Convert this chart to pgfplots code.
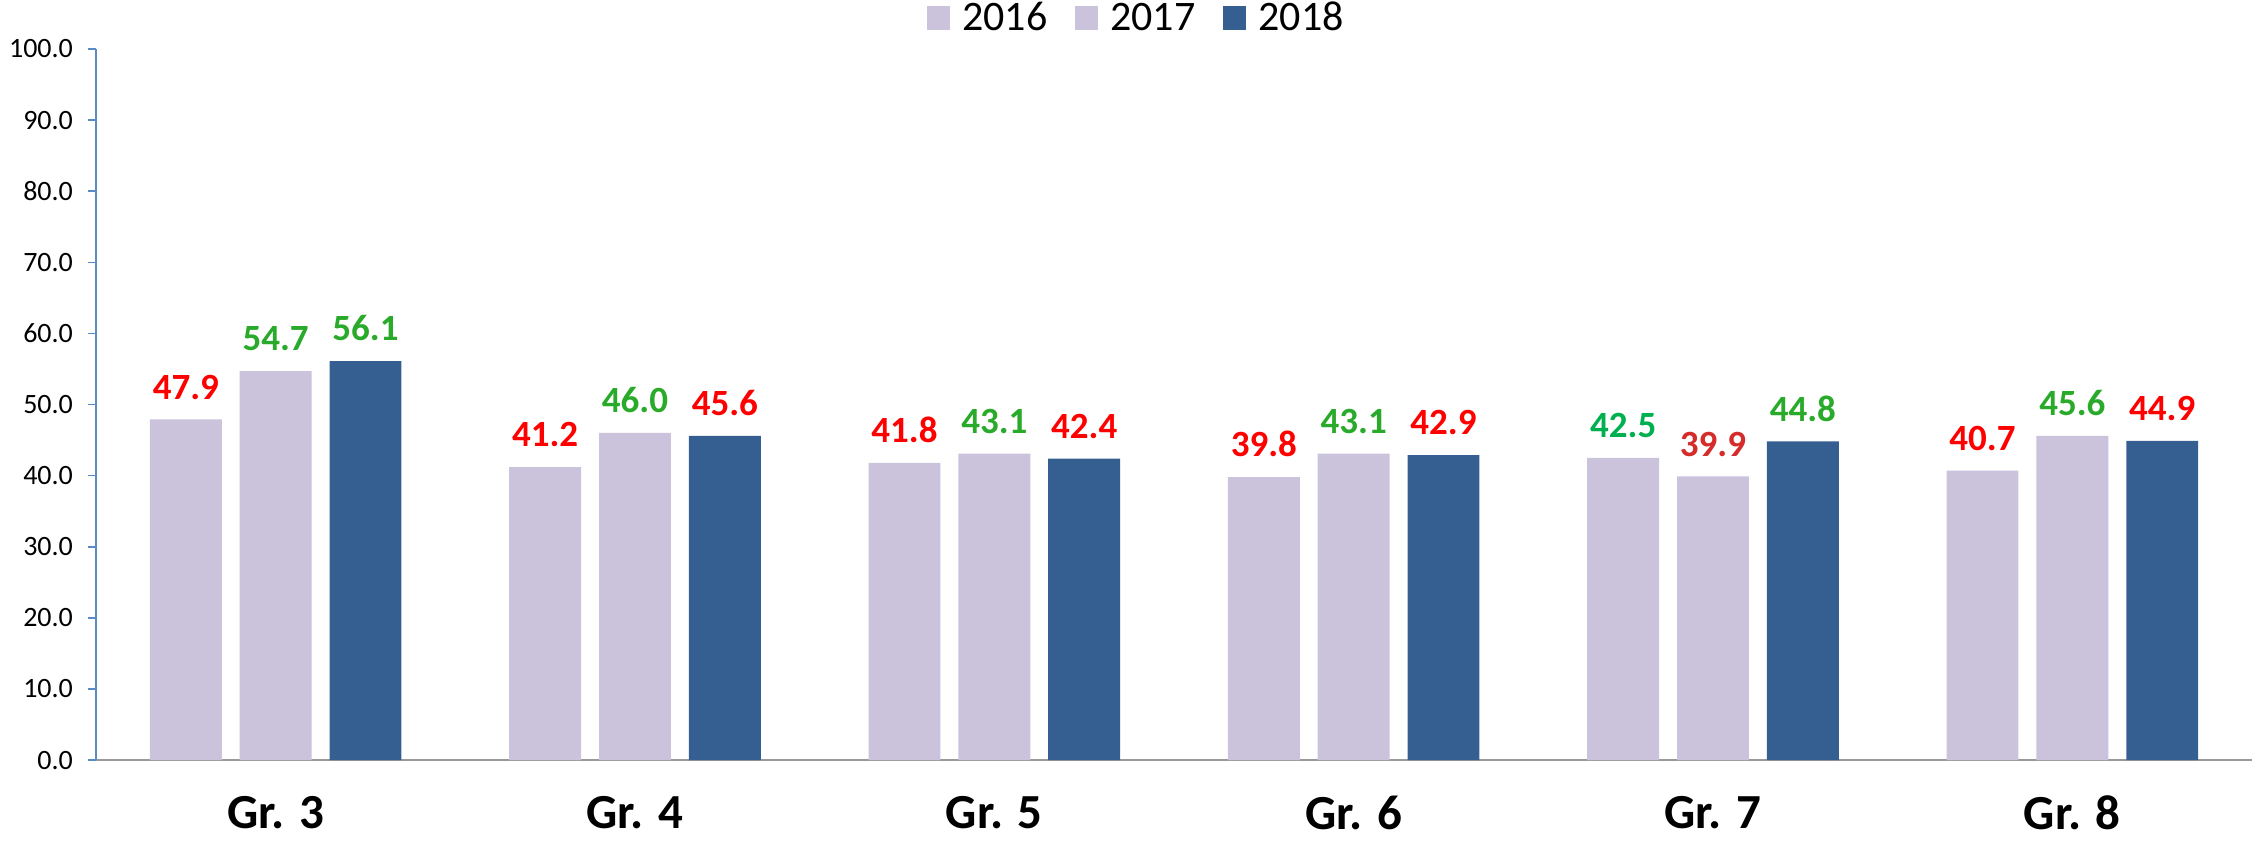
\documentclass[border=0pt]{standalone}
\usepackage{fontspec}
\setmainfont{Carlito}
\usepackage{pgfplots}
\pgfplotsset{compat=1.18}
\definecolor{lav}{HTML}{CBC2DB}
\definecolor{navy}{HTML}{365F91}
\definecolor{lred}{HTML}{FF0000}
\definecolor{dred}{HTML}{D52B2B}
\definecolor{lgreen}{HTML}{2AAA2A}
\definecolor{bgreen}{HTML}{00B050}
\definecolor{yblue}{HTML}{5B8AC8}
\begin{document}
\begin{tikzpicture}
\begin{axis}[
  name=ax,
  scale only axis, width=1078pt, height=355.5pt,
  xmin=-0.5, xmax=5.5, ymin=0, ymax=100,
  ytick={0,10,...,100},
  xtick={0,1,2,3,4,5},
  xticklabels={Gr. 3,Gr. 4,Gr. 5,Gr. 6,Gr. 7,Gr. 8},
  axis x line=bottom, axis y line=left,
  x axis line style={-, draw=gray!80, line width=0.8pt},
  y axis line style={-, draw=yblue, line width=0.8pt},
  xtick style={draw=none},
  ytick style={draw=yblue, line width=0.8pt},
  tick align=outside, major tick length=4pt,
  /pgf/number format/assume math mode=true,
  yticklabel style={/pgf/number format/.cd, fixed, fixed zerofill, precision=1, /tikz/.cd, font=\fontsize{14}{15}\selectfont, xshift=-4pt},
  xticklabel style={font=\bfseries\fontsize{24.5}{25}\selectfont, yshift=-10.5pt},
  ybar, bar width=0.2,
  point meta=explicit symbolic,
  nodes near coords,
  nodes near coords style={font=\bfseries\fontsize{18.5}{19}\selectfont, anchor=south, yshift=6.5pt},
  legend style={draw=none, at={(0.483,1)}, anchor=center, yshift=15.5pt, legend columns=-1,
    font=\fontsize{21}{22}\selectfont,
    /tikz/every odd column/.append style={column sep=4pt},
    /tikz/every even column/.append style={column sep=12pt}},
  legend image code/.code={\fill[#1] (0pt,-5.75pt) rectangle (11.5pt,5.75pt);},
]
\addplot[fill=lav, draw=none, bar shift=-0.25] coordinates {
  (0,47.9) [\textcolor{lred}{47.9}]
  (1,41.2) [\textcolor{lred}{41.2}]
  (2,41.8) [\textcolor{lred}{41.8}]
  (3,39.8) [\textcolor{lred}{39.8}]
  (4,42.5) [\textcolor{bgreen}{42.5}]
  (5,40.7) [\textcolor{lred}{40.7}]
};
\addplot[fill=lav, draw=none, bar shift=0] coordinates {
  (0,54.7) [\textcolor{lgreen}{54.7}]
  (1,46.0) [\textcolor{lgreen}{46.0}]
  (2,43.1) [\textcolor{lgreen}{43.1}]
  (3,43.1) [\textcolor{lgreen}{43.1}]
  (4,39.9) [\textcolor{dred}{39.9}]
  (5,45.6) [\textcolor{lgreen}{45.6}]
};
\addplot[fill=navy, draw=none, bar shift=0.25] coordinates {
  (0,56.1) [\textcolor{lgreen}{56.1}]
  (1,45.6) [\textcolor{lred}{45.6}]
  (2,42.4) [\textcolor{lred}{42.4}]
  (3,42.9) [\textcolor{lred}{42.9}]
  (4,44.8) [\textcolor{lgreen}{44.8}]
  (5,44.9) [\textcolor{lred}{44.9}]
};
\legend{2016,2017,2018}
\end{axis}
\pgfresetboundingbox
\useasboundingbox ([xshift=-48pt,yshift=-41pt]ax.south west) rectangle ([xshift=2.5pt,yshift=24.5pt]ax.north east);
\end{tikzpicture}
\end{document}
